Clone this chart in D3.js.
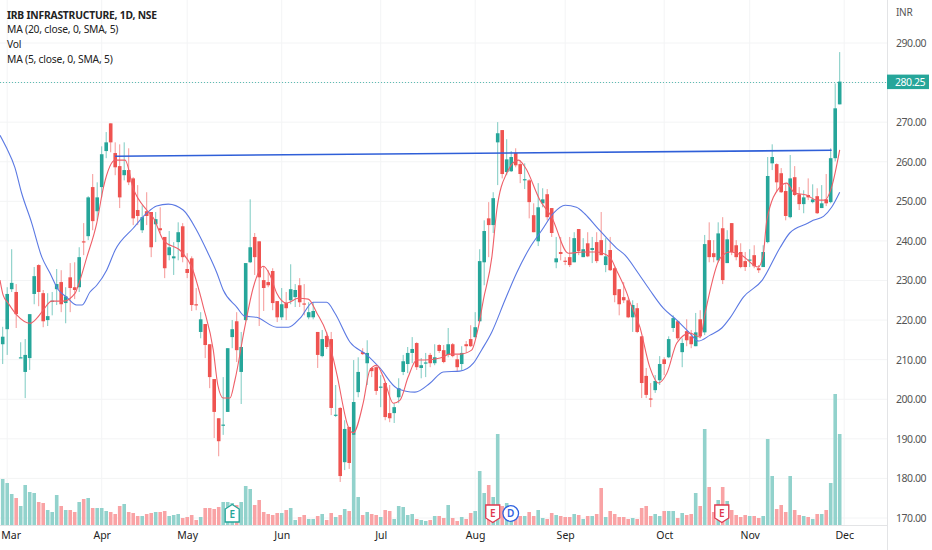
<!DOCTYPE html>
<html>
<head>
<meta charset="utf-8">
<title>IRB INFRASTRUCTURE, 1D, NSE</title>
<script src="https://cdn.jsdelivr.net/npm/d3@7"></script>
<style>
html, body { margin: 0; padding: 0; background: #fff; overflow: hidden; }
text { font-family: "Noto Sans", sans-serif; }
</style>
</head>
<body>
<script>
// Daily candles
var opens = [213.9,217.7,227.8,227.1,210.4,206.9,210.4,226.6,233.9,226.8,
220.0,224.8,227.8,229.6,224.3,230.8,228.3,228.3,239.9,241.2,
253.6,247.5,253.6,262.7,269.7,262.2,258.9,256.6,257.9,255.8,
247.8,242.7,247.5,247.3,244.2,243.2,241.0,236.4,235.6,239.7,
243.7,232.9,235.6,224.0,217.0,219.0,213.9,205.1,195.2,193.4,
196.8,215.7,219.7,206.9,220.0,234.6,241.0,239.9,230.1,229.6,
232.4,224.8,220.7,224.3,225.0,225.8,228.8,224.2,220.7,220.7,
217.0,210.9,216.0,215.2,195.9,197.8,184.1,193.0,191.0,201.8,
211.9,209.1,207.9,208.1,203.0,204.1,196.5,196.5,200.5,206.9,
208.9,211.7,214.2,207.9,209.0,211.2,209.1,213.7,212.4,211.2,
213.9,210.1,208.9,213.9,215.2,215.7,219.7,234.6,245.7,244.0,
264.9,268.0,257.4,257.6,262.2,259.4,255.3,255.3,246.5,239.9,
249.5,251.8,248.3,234.6,237.2,235.0,235.9,234.6,243.0,235.9,
239.4,237.7,239.7,240.2,233.9,237.7,233.1,227.8,225.8,225.0,
220.7,223.0,215.9,205.9,200.2,202.3,204.8,210.1,210.6,218.0,
219.7,211.9,217.2,215.9,213.4,220.2,216.9,240.2,236.9,235.1,
243.2,234.4,244.5,238.9,237.2,234.9,235.0,236.4,233.1,233.4,
239.7,259.6,259.4,257.1,252.6,246.0,256.1,251.8,249.3,251.6,
249.8,251.3,248.3,250.5,249.8,260.9,274.5];

var highs = [218.3,228.3,237.9,229.1,214.4,215.2,221.5,233.4,234.1,227.6,
226.8,227.1,232.9,232.6,228.3,234.4,234.6,238.4,244.5,251.3,
256.9,254.8,263.9,267.5,269.7,264.9,264.4,264.9,263.4,256.1,
254.1,249.0,252.3,247.3,247.3,248.5,241.0,242.5,239.7,244.7,
244.5,236.9,236.1,228.1,222.0,219.0,213.9,205.1,195.2,205.6,
212.9,220.0,222.0,217.0,234.4,250.5,242.0,239.9,233.6,232.6,
233.1,224.8,228.1,227.1,234.1,229.1,230.6,229.1,224.5,224.5,
217.0,217.5,217.0,217.0,203.6,198.0,194.7,193.0,209.9,210.6,
212.9,214.9,208.1,208.6,206.1,204.3,203.6,199.0,205.3,211.2,
213.2,215.7,214.4,210.4,211.7,211.7,213.9,213.9,213.7,218.0,
214.2,211.2,213.4,214.7,218.7,222.0,237.9,245.2,249.8,252.3,
270.0,268.0,265.7,262.7,263.4,260.4,259.6,255.6,249.5,254.6,
253.3,253.1,248.3,241.0,241.0,235.9,241.0,242.2,243.0,240.7,
242.2,241.0,242.2,247.3,240.7,241.0,233.4,227.8,229.6,225.5,
225.0,224.3,215.9,207.9,204.1,206.1,210.9,210.6,215.9,221.2,
220.0,215.4,220.2,217.5,221.8,222.5,241.5,244.7,240.2,244.7,
246.0,242.7,244.5,240.2,239.4,237.2,237.9,238.9,233.9,238.9,
261.2,264.4,259.6,258.4,254.6,261.7,258.9,253.6,252.8,255.8,
254.3,253.3,254.1,256.9,263.4,279.8,287.7];

var lows = [208.9,211.2,227.1,218.0,210.4,200.3,207.4,224.0,223.5,218.2,
218.5,221.2,223.8,222.0,219.2,222.0,225.3,227.1,236.4,240.2,
242.7,245.2,251.0,260.9,262.4,256.6,248.3,255.3,254.1,244.0,
244.0,242.0,244.0,235.9,239.7,242.0,230.6,235.1,231.4,235.1,
234.6,230.6,222.3,222.5,215.4,210.4,202.8,190.2,185.6,191.0,
196.8,212.9,209.4,198.8,219.7,234.4,231.4,218.5,222.3,228.3,
222.5,219.5,220.0,220.0,224.0,223.3,223.3,221.2,220.2,220.2,
207.9,210.6,212.7,196.0,195.5,179.1,182.1,182.4,191.0,200.5,
211.2,203.6,205.6,201.1,198.0,194.7,194.2,194.0,199.0,206.1,
206.6,209.1,207.4,205.3,205.6,208.1,208.6,211.7,209.1,210.6,
210.6,206.9,207.4,211.7,213.2,215.4,219.5,228.8,235.9,242.0,
254.1,255.8,256.6,257.4,258.6,254.6,253.1,245.7,242.2,238.7,
248.5,245.2,241.0,233.1,235.1,233.9,233.4,234.6,236.4,235.9,
235.9,234.4,234.4,236.4,232.1,232.4,224.5,221.2,224.3,220.5,
217.0,216.7,200.3,200.3,198.0,201.6,203.6,206.1,210.4,217.0,
214.9,208.1,213.4,212.9,213.4,215.4,216.2,234.6,234.6,234.6,
229.1,234.4,236.4,235.1,233.1,232.4,233.4,233.1,231.9,233.4,
239.4,257.9,252.3,252.1,245.2,245.7,251.3,247.8,247.0,250.3,
249.5,246.8,248.3,248.8,249.5,260.1,274.5];

var closes = [215.8,226.6,229.4,221.5,210.6,211.2,221.5,231.1,227.1,219.7,
221.0,224.9,229.1,224.0,226.0,228.1,227.6,235.9,239.6,251.0,
245.0,251.0,261.9,264.9,264.9,258.6,251.0,257.9,254.8,245.7,
246.3,246.0,246.3,238.4,245.5,242.7,233.1,238.4,236.1,242.2,
235.9,231.9,223.8,223.7,220.2,213.7,205.6,196.8,189.4,193.6,
212.9,217.7,212.4,213.2,234.4,238.4,235.9,230.8,228.1,228.8,
224.3,220.7,224.0,223.0,227.8,227.6,224.5,223.9,222.0,222.3,
211.2,215.2,213.2,197.8,196.1,180.6,192.5,183.9,199.3,206.9,
211.4,211.7,207.1,202.1,203.2,195.5,195.2,198.0,202.8,209.6,
211.7,212.7,208.1,208.6,209.3,209.1,210.6,212.2,209.4,213.9,
210.9,208.1,211.7,213.4,213.4,218.2,234.9,242.5,244.0,250.8,
267.2,256.9,260.6,261.2,259.1,256.9,255.6,249.8,242.2,248.5,
250.5,246.0,242.0,235.6,236.7,234.8,233.9,240.7,237.4,237.9,
236.1,238.2,234.9,236.4,236.1,232.6,226.3,224.0,225.0,220.7,
223.8,217.0,204.1,201.1,199.9,204.6,208.9,208.9,215.2,220.5,
215.4,214.2,214.9,213.9,216.9,215.9,239.2,235.9,235.9,241.9,
230.1,240.4,237.2,235.9,233.4,233.4,235.3,233.6,232.6,237.2,
256.4,261.2,254.8,252.3,246.3,255.8,251.6,249.3,251.0,251.0,
250.5,247.0,249.5,249.5,260.9,273.5,280.25];

var volumes = [46,42,31,27,19,40,33,32,23,22,
15,13,30,19,15,15,13,23,26,27,
17,17,17,14,13,11,19,21,13,12,
9,9,11,12,13,13,14,9,10,11,
7,8,10,5,8,17,17,16,18,23,
23,22,20,23,39,36,20,25,13,11,
10,12,12,15,17,5,8,10,6,6,
9,11,5,12,8,10,16,14,90,28,
10,13,11,10,8,15,14,6,19,18,
10,11,6,5,4,5,9,9,7,20,
7,4,8,6,12,14,54,32,40,28,
91,19,22,12,7,9,9,13,9,15,
7,6,12,10,9,8,8,11,10,6,
9,9,11,37,8,14,11,8,8,6,
7,6,17,19,9,11,9,14,14,14,
7,12,10,11,32,19,96,38,13,25,
38,24,15,10,8,10,9,9,7,9,
86,49,16,20,13,49,15,10,9,8,
6,11,11,15,42,131,91];

// Moving averages: bar number and value at points
var ma20Days = [-0.6,0.9,2.7,4.2,6.4,8.7,10.5,12.4,14.2,16.4,17.6,19.4,20.9,23.1,25,29,32,34.2,36.8,40.1,
43.1,45.3,47.6,49,52,53.8,56.4,60.9,63.5,66.1,69,72,73.8,77.2,80.9,83.8,87.6,91.6,95,97.9,
101.6,104.6,106.4,108.7,111.6,114.2,117.2,119.8,122.4,125,127.5,129.4,132,136.4,138.3,141.2,143.8,146.8,149.8,152.7,
154.6,157.2,159.8,161.6,164.6,168.8,172.7,174.9,179,180.1,182.4,184.2,186];
var ma20Values = [266.7,263.4,258.6,252.1,244.7,235.9,231.9,227.6,225.8,223.8,223.8,227.1,228.8,232.6,237.7,243.2,247.0,248.8,249.3,247.8,
242.7,237.7,231.9,227.6,223.3,221.0,220.7,218.2,218.2,220.5,224.5,224.5,221.8,214.4,211.2,207.9,202.8,201.8,204.1,206.9,
207.1,209.1,212.4,217.0,225.0,231.9,238.4,242.7,247.0,249.0,248.5,246.8,243.5,238.2,236.4,231.9,227.6,223.0,220.0,216.7,
214.7,216.2,218.0,220.5,225.8,230.1,238.2,242.0,244.5,245.2,246.2,248.5,252.3];

var ma5Days = [-0.6,0.1,1.2,3.1,6.1,7.6,9,10.9,13.5,16.1,16.8,18.7,20.9,22.4,25,27.2,29,32,33.5,35.7,
39.8,42,44.6,46.8,47.8,49,50.5,51.6,53.8,55.7,57.9,59.4,60.9,63.1,65.7,67.9,69.8,72,74.2,76.8,
77.9,80.1,81.6,83.1,84.6,86.8,88.3,90.1,92,93.8,97.2,99.4,101.6,104.2,105.7,106.8,108.7,109.8,112,114.6,
116.1,119.4,122,125.7,129,132,134.9,136.4,138.7,139.4,141.6,143.8,145.7,147.6,149.8,152.7,155,156.1,159.4,161.6,
164.2,167.9,169,169.8,172.7,174.2,176,178.6,180.9,182.7,184.2,186];
var ma5Values = [230.1,226.3,224.3,221.3,219.2,220.5,222.5,224.8,224.8,226.8,228.8,235.9,244.5,253.6,260.4,260.4,253.3,247.8,245.8,240.2,
237.2,233.4,223.3,212.4,203.6,200.3,200.3,204.8,218.2,228.3,233.6,231.4,226.8,224.3,225.5,225.3,221.8,216.7,206.6,193.0,
191.5,199.0,207.4,208.6,205.6,199.0,199.8,205.6,209.9,209.9,210.4,211.4,211.4,212.4,218.2,225.0,235.9,247.8,257.1,260.4,
258.6,250.3,246.0,236.9,237.2,237.2,235.9,232.6,226.8,224.5,218.2,208.1,204.1,206.6,214.2,216.7,215.7,221.8,235.6,237.2,
236.4,233.4,236.4,245.2,253.6,254.6,252.1,251.6,250.3,250.3,253.6,263.0];

// Hand drawn resistance line
var trendDays = [25, 184.2];
var trendValues = [261.4, 262.9];

var priceTicks = [170,180,190,200,210,220,230,240,250,260,270,280,290];
var monthNames = ["Mar","Apr","May","Jun","Jul","Aug","Sep","Oct","Nov","Dec"];
var monthDays = [1,22,41,62,84,105,125,147,166,187];

var legendRows = ["IRB INFRASTRUCTURE, 1D, NSE","MA (20, close, 0, SMA, 5)","Vol","MA (5, close, 0, SMA, 5)"];

var earningsUpDays = [51];
var earningsDownDays = [108.9, 159.8];
var dividendDays = [112.9];
var lastPrice = 280.25;

var green = "#26a69a", red = "#ef5350";
var width = 932, height = 550;
var plotRight = 887;
var baseY = 525;

var svg = d3.select("body").append("svg")
    .attr("width", width)
    .attr("height", height)
    .style("display", "block");

var x = d3.scaleLinear().domain([0, 186]).range([2.7, 839.7]);
var y = d3.scaleLinear().domain([170, 290]).range([518, 43]);
var v = d3.scaleLinear().domain([0, 131]).range([baseY, 394]);

// Grid
svg.append("g").selectAll("line")
    .data(priceTicks)
    .enter().append("line")
    .attr("x1", 0)
    .attr("x2", plotRight)
    .attr("y1", function(d) { return y(d); })
    .attr("y2", function(d) { return y(d); })
    .attr("stroke", "#f3f4f5");

svg.append("g").selectAll("line")
    .data(monthDays)
    .enter().append("line")
    .attr("x1", function(d) { return x(d); })
    .attr("x2", function(d) { return x(d); })
    .attr("y1", 0)
    .attr("y2", baseY)
    .attr("stroke", "#f3f4f5");

// Volume bars
var days = d3.range(closes.length);

svg.append("g").selectAll("rect")
    .data(days)
    .enter().append("rect")
    .attr("x", function(d) { return x(d) - 1.8; })
    .attr("width", 3.6)
    .attr("y", function(d) { return v(volumes[d]); })
    .attr("height", function(d) { return baseY - v(volumes[d]); })
    .attr("fill", function(d) { return closes[d] >= opens[d] ? "#92d2cc" : "#f9a3a5"; });

// Last price line
svg.append("line")
    .attr("x1", 0)
    .attr("x2", plotRight)
    .attr("y1", Math.round(y(lastPrice)) + 0.5)
    .attr("y2", Math.round(y(lastPrice)) + 0.5)
    .attr("stroke", "#5cbcb2")
    .attr("stroke-dasharray", "1,2");

// Candles
var candles = svg.append("g");

candles.selectAll("line")
    .data(days)
    .enter().append("line")
    .attr("x1", function(d) { return x(d); })
    .attr("x2", function(d) { return x(d); })
    .attr("y1", function(d) { return y(highs[d]); })
    .attr("y2", function(d) { return y(lows[d]); })
    .attr("stroke", function(d) { return closes[d] >= opens[d] ? green : red; })
    .attr("stroke-opacity", 0.6)
    .attr("stroke-width", 1);

candles.selectAll("rect")
    .data(days)
    .enter().append("rect")
    .attr("x", function(d) { return x(d) - 1.8; })
    .attr("width", 3.6)
    .attr("y", function(d) { return y(Math.max(opens[d], closes[d])); })
    .attr("height", function(d) { return Math.max(1.2, Math.abs(y(opens[d]) - y(closes[d]))); })
    .attr("fill", function(d) { return closes[d] >= opens[d] ? green : red; });

// Moving averages and trend line
function maLine(dayList, valueList, color, w, curve) {
    var line = d3.line()
        .x(function(d) { return x(dayList[d]); })
        .y(function(d) { return y(valueList[d]); })
        .curve(curve);
    svg.append("path")
        .attr("d", line(d3.range(dayList.length)))
        .attr("fill", "none")
        .attr("stroke", color)
        .attr("stroke-width", w);
}

maLine(ma20Days, ma20Values, "#5b79e3", 1.1, d3.curveMonotoneX);
maLine(ma5Days, ma5Values, "#ef5f68", 1.1, d3.curveMonotoneX);
maLine(trendDays, trendValues, "#2f5fd8", 1.6, d3.curveLinear);

// Event badges
function badge(day, path, color, label, dy) {
    var g = svg.append("g").attr("transform", "translate(" + x(day) + ",513.5)");
    g.append("path")
        .attr("d", path)
        .attr("fill", "#fff")
        .attr("stroke", color)
        .attr("stroke-width", 1.3);
    g.append("text")
        .attr("text-anchor", "middle")
        .attr("y", dy)
        .attr("fill", color)
        .attr("font-size", 10)
        .attr("font-weight", 600)
        .text(label);
}

earningsUpDays.forEach(function(d) {
    badge(d, "M0,-9L7,-4.5V8.5H-7V-4.5Z", green, "E", 4.5);
});
earningsDownDays.forEach(function(d) {
    badge(d, "M-7,-8.5H7V4.5L0,9L-7,4.5Z", "#e0394f", "E", 3.5);
});
dividendDays.forEach(function(d) {
    badge(d, d3.arc()({innerRadius: 0, outerRadius: 7.8, startAngle: 0, endAngle: 2 * Math.PI}), "#2f62e0", "D", 3.5);
});

// Axes
svg.append("line")
    .attr("x1", plotRight + 0.5)
    .attr("x2", plotRight + 0.5)
    .attr("y1", 0)
    .attr("y2", height)
    .attr("stroke", "#e3e4e6");

svg.append("line")
    .attr("x1", 0)
    .attr("x2", plotRight)
    .attr("y1", baseY + 0.5)
    .attr("y2", baseY + 0.5)
    .attr("stroke", "#e3e4e6");

var yAxis = svg.append("g")
    .attr("transform", "translate(" + plotRight + ",0)")
    .call(d3.axisRight(y).tickValues(priceTicks).tickSize(0).tickPadding(9).tickFormat(d3.format(".2f")));
yAxis.select(".domain").remove();
yAxis.selectAll("text")
    .attr("font-family", "Noto Sans")
    .attr("font-size", 10.5)
    .attr("letter-spacing", -0.45)
    .attr("fill", "#555");

var xAxis = svg.append("g")
    .attr("transform", "translate(0,532)")
    .call(d3.axisBottom(x).tickValues(monthDays).tickSize(0).tickPadding(0)
        .tickFormat(function(d, i) { return monthNames[i]; }));
xAxis.select(".domain").remove();
xAxis.selectAll("text")
    .attr("font-family", "Noto Sans")
    .attr("font-size", 10.5)
    .attr("fill", "#222");
// first month label sits against the left edge
xAxis.select(".tick text").attr("dx", 3.5);

svg.append("text")
    .attr("x", 896)
    .attr("y", 15.5)
    .attr("font-size", 10)
    .attr("letter-spacing", -0.3)
    .attr("fill", "#555")
    .text("INR");

// Last price tag
svg.append("rect")
    .attr("x", plotRight)
    .attr("y", y(lastPrice) - 7)
    .attr("width", 42)
    .attr("height", 14.5)
    .attr("fill", green);

svg.append("text")
    .attr("x", 895)
    .attr("y", y(lastPrice) + 4)
    .attr("font-size", 10.5)
    .attr("letter-spacing", -0.45)
    .attr("fill", "#fff")
    .text(d3.format(".2f")(lastPrice));

// Legend
svg.append("g").selectAll("text")
    .data(legendRows)
    .enter().append("text")
    .attr("x", 7)
    .attr("y", function(d, i) { return 18.5 + i * 14.9; })
    .attr("font-size", 10.3)
    .attr("font-weight", function(d, i) { return i == 0 ? 700 : 400; })
    .attr("letter-spacing", -0.2)
    .attr("fill", "#222")
    .text(function(d) { return d; });
</script>
</body>
</html>
